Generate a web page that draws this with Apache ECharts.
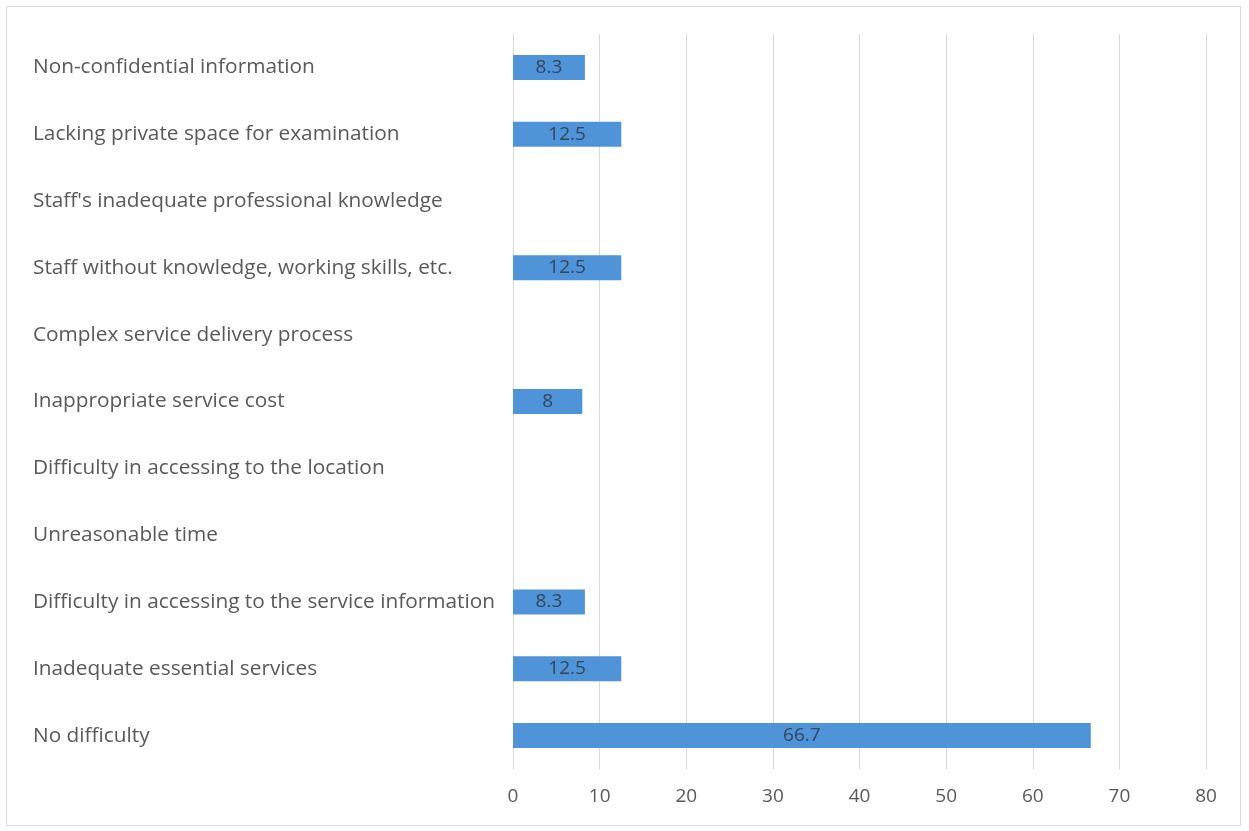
<!DOCTYPE html>
<html>
<head>
<meta charset="utf-8">
<script src="https://cdn.jsdelivr.net/npm/echarts@6/dist/echarts.min.js"></script>
<style>
  html, body { margin: 0; padding: 0; background: #fff; }
  #chart { width: 1249px; height: 831px; }
</style>
</head>
<body>
<div id="chart"></div>
<script>
// Categories listed bottom to top (category y-axis starts at the bottom)
const categories = [
  'No difficulty',
  'Inadequate essential services',
  'Difficulty in accessing to the service information',
  'Unreasonable time',
  'Difficulty in accessing to the location',
  'Inappropriate service cost',
  'Complex service delivery process',
  'Staff without knowledge, working skills, etc.',
  "Staff's inadequate professional knowledge",
  'Lacking private space for examination',
  'Non-confidential information'
];
// Percent of respondents; null = no response for that item
const values = [66.7, 12.5, 8.3, null, null, 8, null, 12.5, null, 12.5, 8.3];
const xMin = 0, xMax = 80, xStep = 10;

const font = '"Open Sans", "Noto Sans", sans-serif';
const chart = echarts.init(document.getElementById('chart'));
chart.setOption({
  animation: false,
  backgroundColor: '#ffffff',
  graphic: [{
    type: 'rect',
    shape: { x: 6.5, y: 6.5, width: 1234, height: 819 },
    style: { fill: 'none', stroke: '#d9d9d9', lineWidth: 1 },
    silent: true
  }],
  grid: { left: 513, right: 43, top: 34, bottom: 62, containLabel: false },
  xAxis: {
    type: 'value',
    min: xMin, max: xMax, interval: xStep,
    axisLine: { show: false },
    axisTick: { show: false },
    splitLine: { lineStyle: { color: '#d9d9d9', width: 1 } },
    axisLabel: { color: '#595959', fontSize: 19, fontFamily: font, margin: 18 }
  },
  yAxis: {
    type: 'category',
    data: categories,
    axisLine: { show: false },
    axisTick: { show: false },
    axisLabel: {
      color: '#595959', fontSize: 20.8, fontFamily: font,
      align: 'left', margin: 480
    }
  },
  series: [{
    type: 'bar',
    data: values,
    barWidth: 25,
    itemStyle: { color: '#4f93d9' },
    label: {
      show: true, position: 'inside', color: '#34465a',
      fontSize: 19, fontFamily: font
    }
  }]
});
</script>
</body>
</html>
